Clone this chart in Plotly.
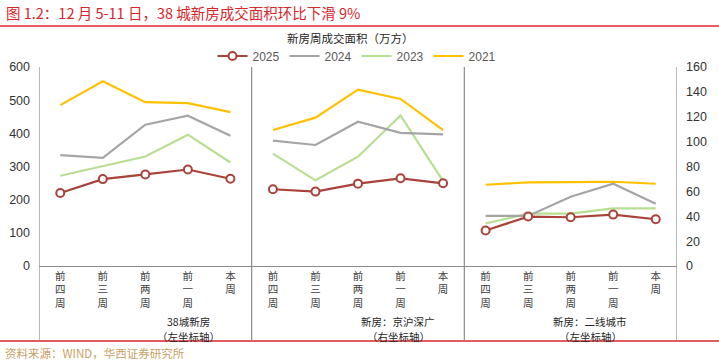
import plotly.graph_objects as go

W, H = 719, 362
L, R, T, B = 39, 42, 67, 96
PW, PH = W - L - R, H - T - B

weeks = ["前<br>四<br>周", "前<br>三<br>周", "前<br>两<br>周", "前<br>一<br>周", "本<br>周"]
panels_l1 = ["38城新房", "新房：京沪深广", "新房：二线城市"]
panels_l2 = ["（左坐标轴）", "（右坐标轴）", "（左坐标轴）"]
panel_axis = ["y", "y2", "y"]

years = ["2025", "2024", "2023", "2021"]
colors = {"2025": "#A9433A", "2024": "#A5A5A5", "2023": "#B8DE91", "2021": "#FFC000"}

# values per year, per panel (panel 1 & 3: left axis; panel 2: right axis)
v2025 = [[220, 262, 276, 291, 263], [61.7, 59.8, 66.2, 70.5, 66.5], [107, 149, 147, 155, 141]]
v2024 = [[334, 326, 426, 453, 393], [100.8, 97.3, 116, 107, 105.9], [151, 151, 209, 248, 188]]
v2023 = [[272, 301, 330, 396, 312], [90.3, 68.9, 87.9, 121.1, 68.3], [128, 158, 158, 174, 174]]
v2021 = [[485, 557, 494, 491, 464], [109.3, 119.3, 141.8, 134.3, 109.3], [245, 252, 253, 254, 248]]
values = {"2025": v2025, "2024": v2024, "2023": v2023, "2021": v2021}

left_ticks = [0, 100, 200, 300, 400, 500, 600]
right_ticks = [0, 20, 40, 60, 80, 100, 120, 140, 160]

def px_x(px):
    return (px - L) / PW

def px_y(py):
    return (H - B - py) / PH

fig = go.Figure()
rank = {"2025": 1, "2024": 2, "2023": 3, "2021": 4}
for yr in ["2021", "2023", "2024", "2025"]:
    for p in range(3):
        xs = [p * 5 + i for i in range(5)]
        kw = dict(
            x=xs, y=values[yr][p], mode="lines", name=yr, legendgroup=yr,
            showlegend=(p == 0), legendrank=rank[yr], yaxis=panel_axis[p],
            line=dict(color=colors[yr], width=2.2),
        )
        if yr == "2025":
            kw["mode"] = "lines+markers"
            kw["marker"] = dict(symbol="circle", size=8, color="white",
                                line=dict(color=colors[yr], width=2))
        fig.add_trace(go.Scatter(**kw))

tickvals = list(range(15))
ticktext = weeks * 3

shapes = []
for xv in [-0.5, 4.5, 9.5, 14.5]:
    shapes.append(dict(type="line", xref="x", yref="paper", x0=xv, x1=xv,
                       y0=px_y(340), y1=1, line=dict(color="#8C8C8C", width=1.2)))
for py in [26, 341]:
    shapes.append(dict(type="line", xref="paper", yref="paper", x0=px_x(0), x1=px_x(W),
                       y0=px_y(py), y1=px_y(py), line=dict(color="#D9262B", width=1.5)))

annotations = [
    dict(text="图 1.2：12 月 5-11 日，38 城新房成交面积环比下滑 9%", xref="paper", yref="paper",
         x=px_x(4), y=px_y(13), xanchor="left", yanchor="middle", showarrow=False,
         font=dict(size=14.5, color="#D9262B", family="Noto Sans CJK SC")),
    dict(text="新房周成交面积（万方）", xref="paper", yref="paper",
         x=px_x(350), y=px_y(38), xanchor="center", yanchor="middle", showarrow=False,
         font=dict(size=11.5, color="#262626", family="Noto Sans CJK SC")),
    dict(text="资料来源：WIND，华西证券研究所", xref="paper", yref="paper",
         x=px_x(3), y=px_y(353), xanchor="left", yanchor="middle", showarrow=False,
         font=dict(size=11.5, color="#C9A063", family="Noto Sans CJK SC")),
]
label_cx = [188, 398, 590]
for p in range(3):
    annotations.append(dict(text=panels_l1[p], xref="paper", yref="paper",
                            x=px_x(label_cx[p]), y=px_y(321), xanchor="center", yanchor="middle",
                            showarrow=False,
                            font=dict(size=10.5, color="#262626", family="Noto Sans CJK SC")))
    annotations.append(dict(text=panels_l2[p], xref="paper", yref="paper",
                            x=px_x(label_cx[p]), y=px_y(336.5), xanchor="center", yanchor="middle",
                            showarrow=False,
                            font=dict(size=10.5, color="#262626", family="Noto Sans CJK SC")))

fig.update_layout(
    width=W, height=H, margin=dict(l=L, r=R, t=T, b=B, autoexpand=False),
    paper_bgcolor="white", plot_bgcolor="white",
    font=dict(family="Liberation Sans, Arial", color="#404040"),
    xaxis=dict(range=[-0.5, 14.5], tickvals=tickvals, ticktext=ticktext, showgrid=False,
               zeroline=False, showline=True, linecolor="#8C8C8C", linewidth=1.2,
               tickangle=0, tickfont=dict(size=10.5, color="#404040", family="Noto Sans CJK SC"),
               ticks="", fixedrange=True, automargin=False),
    yaxis=dict(range=[0, 600], tickvals=left_ticks, showgrid=False, zeroline=False, automargin=False,
               showline=False, ticks="", tickfont=dict(size=12.5, color="#333333"), ticklabelstandoff=8),
    yaxis2=dict(range=[0, 160], tickvals=right_ticks, showgrid=False, zeroline=False, automargin=False,
                overlaying="y", side="right", showline=False, ticks="",
                tickfont=dict(size=12.5, color="#333333"), ticklabelstandoff=8),
    legend=dict(orientation="h", x=px_x(357), y=px_y(56), xanchor="center", yanchor="middle",
                font=dict(size=12, color="#595959"), itemwidth=30, tracegroupgap=0,
                bgcolor="rgba(0,0,0,0)"),
    shapes=shapes, annotations=annotations, showlegend=True,
)

fig.write_html("out.html", config={"displayModeBar": False},
               post_script="document.body.style.margin='0';document.body.style.overflow='hidden';")
